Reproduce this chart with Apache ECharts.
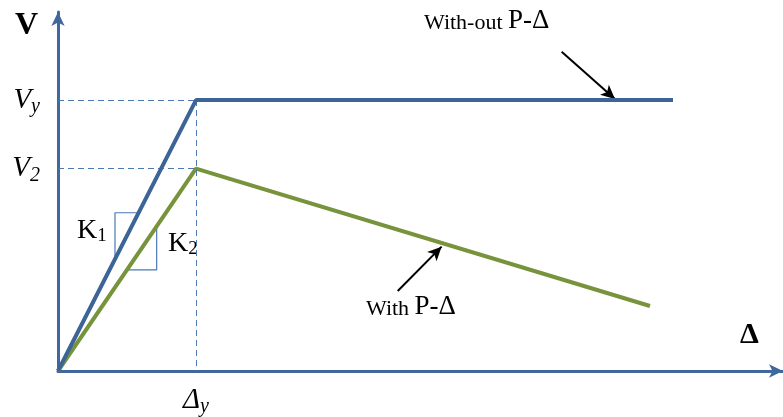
<!DOCTYPE html>
<html>
<head>
<meta charset="utf-8">
<script src="https://cdn.jsdelivr.net/npm/echarts@6/dist/echarts.min.js"></script>
<style>
  html, body { margin: 0; padding: 0; background: #fff; }
  #chart { width: 783px; height: 417px; }
</style>
</head>
<body>
<div id="chart"></div>
<script>
// displacement normalised to Δy = 1, force normalised to Vy = 1
const dispWithout = [0, 1, 4.457]
const forceWithout = [0, 1, 1]
const dispWith = [0, 1, 4.29]
const forceWith = [0, 0.747, 0.24]

// slope triangles for K1, K2
const k1Tri = [[0.413, 0.413], [0.413, 0.584], [0.584, 0.584]]
const k2Tri = [[0.499, 0.373], [0.715, 0.373], [0.715, 0.534]]

const yTicks = [1, 0.747]
const yTickLabels = ['{v|V}{s|y}', '{v|V}{s|2}']
const xTicks = [1]
const xTickLabels = ['{v|Δ}{s|y}']

// pointer arrows [from, to]
const arrowWithout = [[3.65, 1.178], [4.036, 1.004]]
const arrowWith = [[2.462, 0.295], [2.78, 0.459]]

const blue = '#3C6496'
const axisBlue = '#41689C'
const dashBlue = '#4A78B4'
const green = '#77933C'
const serif = '"Liberation Serif", "DejaVu Serif", serif'

const richLabel = {
  v: { fontFamily: serif, fontStyle: 'italic', fontSize: 29, color: '#000' },
  s: { fontFamily: serif, fontStyle: 'italic', fontSize: 20, color: '#000', padding: [14, 0, 0, 0] }
}
const richK = {
  k: { fontFamily: serif, fontSize: 28, fill: '#000' },
  n: { fontFamily: serif, fontSize: 19, padding: [10, 0, 0, 0] }
}
const richNote = {
  a: { fontFamily: serif, fontSize: 22, verticalAlign: 'bottom' },
  b: { fontFamily: serif, fontSize: 27, verticalAlign: 'bottom' }
}

const chart = echarts.init(document.getElementById('chart'))

const option = {
  animation: false,
  grid: { left: 58, right: 0, top: 12, bottom: 46 },
  xAxis: {
    type: 'value',
    min: 0,
    max: 5.254,
    axisLine: { onZero: true, symbol: ['none', 'arrow'], symbolSize: [10, 14], lineStyle: { color: axisBlue, width: 3 } },
    axisTick: { show: false },
    splitLine: { show: false },
    axisLabel: {
      customValues: xTicks,
      margin: 12,
      formatter: v => xTickLabels[xTicks.indexOf(v)] || '',
      rich: richLabel
    }
  },
  yAxis: {
    type: 'value',
    min: 0,
    max: 1.325,
    axisLine: { onZero: true, symbol: ['none', 'arrow'], symbolSize: [10, 14], lineStyle: { color: axisBlue, width: 3 } },
    axisTick: { show: false },
    splitLine: { show: false },
    axisLabel: {
      customValues: yTicks,
      margin: 18,
      formatter: v => yTickLabels[yTicks.indexOf(v)] || '',
      rich: richLabel
    }
  },
  graphic: [
    { type: 'text', left: 15, top: 10, style: { text: 'V', font: 'bold 32px ' + serif, fill: '#000' } },
    { type: 'text', left: 740, top: 320, style: { text: 'Δ', font: 'bold 30px ' + serif, fill: '#000' } },
    { type: 'text', left: 77, top: 217, style: { text: '{k|K}{n|1}', rich: richK } },
    { type: 'text', left: 168, top: 230, style: { text: '{k|K}{n|2}', rich: richK } },
    { type: 'text', left: 424, top: 7, style: { text: '{a|With-out }{b|P-Δ}', rich: richNote } },
    { type: 'text', left: 366, top: 293, style: { text: '{a|With }{b|P-Δ}', rich: richNote } }
  ],
  series: [
    {
      name: 'With-out P-Δ',
      type: 'line',
      data: dispWithout.map((x, i) => [x, forceWithout[i]]),
      symbol: 'none',
      lineStyle: { color: blue, width: 4 },
      z: 5,
      markLine: {
        silent: true,
        symbol: 'none',
        label: { show: false },
        lineStyle: { color: dashBlue, width: 1, type: [6, 4] },
        data: [
          [{ coord: [0, forceWithout[1]] }, { coord: [dispWithout[1], forceWithout[1]] }],
          [{ coord: [0, forceWith[1]] }, { coord: [dispWith[1], forceWith[1]] }],
          [{ coord: [dispWithout[1], forceWithout[1]] }, { coord: [dispWithout[1], 0] }]
        ]
      }
    },
    {
      name: 'With P-Δ',
      type: 'line',
      data: dispWith.map((x, i) => [x, forceWith[i]]),
      symbol: 'none',
      lineStyle: { color: green, width: 4 },
      z: 4,
      markLine: {
        silent: true,
        symbol: ['none', 'arrow'],
        symbolSize: [10, 14],
        label: { show: false },
        lineStyle: { color: '#000', width: 2, type: 'solid' },
        data: [
          [{ coord: arrowWithout[0] }, { coord: arrowWithout[1] }],
          [{ coord: arrowWith[0] }, { coord: arrowWith[1] }]
        ]
      }
    },
    {
      name: 'K1',
      type: 'line',
      data: k1Tri,
      symbol: 'none',
      lineStyle: { color: dashBlue, width: 1.2 },
      z: 3
    },
    {
      name: 'K2',
      type: 'line',
      data: k2Tri,
      symbol: 'none',
      lineStyle: { color: dashBlue, width: 1.2 },
      z: 3
    }
  ]
}

chart.setOption(option)
</script>
</body>
</html>
